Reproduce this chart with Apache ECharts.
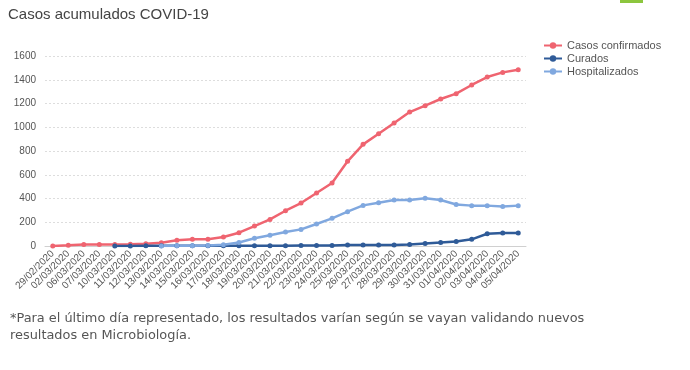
<!DOCTYPE html>
<html>
<head>
<meta charset="utf-8">
<script src="https://cdn.jsdelivr.net/npm/echarts@6/dist/echarts.min.js"></script>
<style>
html,body{margin:0;padding:0;background:#fff;}
#chart{width:690px;height:370px;}
</style>
</head>
<body>
<div id="chart"></div>
<script>
var categories = ['29/02/2020','02/03/2020','06/03/2020','07/03/2020','10/03/2020','11/03/2020','12/03/2020','13/03/2020','14/03/2020','15/03/2020','16/03/2020','17/03/2020','18/03/2020','19/03/2020','20/03/2020','21/03/2020','22/03/2020','23/03/2020','24/03/2020','25/03/2020','26/03/2020','27/03/2020','28/03/2020','29/03/2020','30/03/2020','31/03/2020','01/04/2020','02/04/2020','03/04/2020','04/04/2020','05/04/2020'];
var casosConfirmados = [1,6,12,12,13,14,18,28,48,56,57,76,112,168,224,297,362,446,530,713,856,946,1036,1128,1182,1238,1283,1356,1423,1462,1485];
var curados = [null,null,null,null,1,1,2,2,2,2,2,2,3,3,3,3,4,4,4,8,9,9,9,12,21,29,38,56,103,109,109];
var hospitalizados = [null,null,null,null,null,null,null,0,2,3,5,10,30,65,90,118,140,185,233,289,342,365,388,388,403,388,350,340,340,332,340];
var seriesNames = ['Casos confirmados','Curados','Hospitalizados'];
var yTicks = {min:0, max:1600, interval:200};
var footnote = '*Para el último día representado, los resultados varían según se vayan validando nuevos\nresultados en Microbiología.';

var colors = ['#ef6470','#2f5b98','#80a8df'];
var font = 'Liberation Sans, Arial, sans-serif';
var chart = echarts.init(document.getElementById('chart'));
function mk(name, data, c){
  return {name:name, type:'line', data:data, color:c, symbol:'circle', symbolSize:5,
    lineStyle:{width:2.5, color:c}, itemStyle:{color:c}, connectNulls:false, animation:false};
}
chart.setOption({
  animation:false,
  textStyle:{fontFamily:font},
  title:{text:'Casos acumulados COVID-19', left:3, top:2,
    textStyle:{fontSize:15, fontWeight:'normal', color:'#444', fontFamily:font}},
  legend:{orient:'vertical', left:538, top:34, itemWidth:18, itemHeight:8, itemGap:0,
    textStyle:{fontSize:11, lineHeight:13, color:'#555', fontFamily:font},
    data:seriesNames},
  grid:{left:45, right:164, top:56, bottom:124},
  xAxis:{type:'category', data:categories, boundaryGap:true,
    axisLine:{lineStyle:{color:'#d0d0d0'}}, axisTick:{show:false},
    axisLabel:{rotate:45, fontSize:10, color:'#555', margin:6, interval:0, fontFamily:font}},
  yAxis:{type:'value', min:yTicks.min, max:yTicks.max, interval:yTicks.interval,
    axisLine:{show:false}, axisTick:{show:false},
    axisLabel:{fontSize:10, color:'#555', margin:9, fontFamily:font, formatter:function(v){return String(v);}},
    splitLine:{lineStyle:{color:'#ddd', type:[2,2]}}},
  graphic:[
    {type:'rect', shape:{x:620, y:0, width:23, height:3}, style:{fill:'#8cc63e'}},
    {type:'text', left:10, top:310, style:{text:footnote, fontSize:12.9, lineHeight:17, fill:'#555', fontFamily:'DejaVu Sans, sans-serif'}}
  ],
  series:[
    mk(seriesNames[0], casosConfirmados, colors[0]),
    mk(seriesNames[1], curados, colors[1]),
    mk(seriesNames[2], hospitalizados, colors[2])
  ]
});
</script>
</body>
</html>
